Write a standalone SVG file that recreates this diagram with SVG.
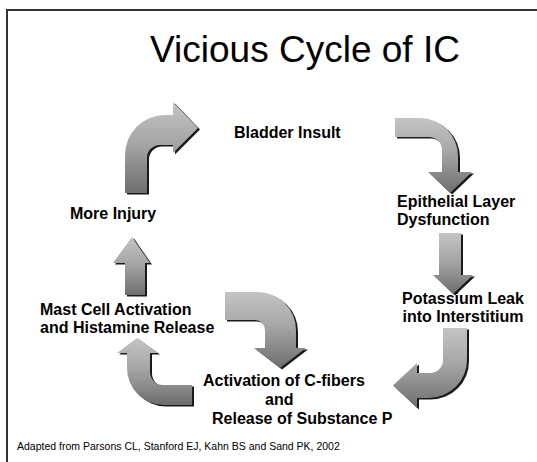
<svg xmlns="http://www.w3.org/2000/svg" width="537" height="462" viewBox="0 0 537 462">
<defs>
<linearGradient id="g" x1="0" y1="0" x2="0" y2="1">
<stop offset="0" stop-color="#c4c4c4"/>
<stop offset="0.45" stop-color="#a6a6a6"/>
<stop offset="1" stop-color="#6e6e6e"/>
</linearGradient>
<style>
.lbl{font-family:"Liberation Sans",Arial,sans-serif;font-weight:bold;font-size:16px;fill:#000}
.arr{fill:url(#g)}
.sh{fill:#1a1a1a}
</style>
</defs>
<rect x="0" y="0" width="537" height="462" fill="#fff"/>
<g id="frame">
<line x1="6" y1="10" x2="537" y2="10" stroke="#333" stroke-width="2"/>
<line x1="7" y1="10" x2="7" y2="462" stroke="#333" stroke-width="2"/>
</g>
<text id="title" x="305" y="62" text-anchor="middle" font-family="Liberation Sans,Arial,sans-serif" font-size="37" fill="#000">Vicious Cycle of IC</text>
<g id="connectors">
<g id="a1">
<path class="sh" transform="translate(2,1.5)" d="M125,193 L125,155 A40,40 0 0 1 165,115 L173,115 L173,102 L198,128 L173,153 L173,145 L160,145 A13,13 0 0 0 147,158 L147,193 Z"/>
<path class="arr" d="M125,193 L125,155 A40,40 0 0 1 165,115 L173,115 L173,102 L198,128 L173,153 L173,145 L160,145 A13,13 0 0 0 147,158 L147,193 Z"/>
</g>
<g id="a2">
<path class="sh" transform="translate(2,1.5)" d="M395,118 L420,118 A38,38 0 0 1 458,156 L458,172 L472,172 L450,193 L428,172 L442,172 L442,150 A13,13 0 0 0 429,137 L395,137 Z"/>
<path class="arr" d="M395,118 L420,118 A38,38 0 0 1 458,156 L458,172 L472,172 L450,193 L428,172 L442,172 L442,150 A13,13 0 0 0 429,137 L395,137 Z"/>
</g>
<g id="a3">
<path class="sh" transform="translate(2,1.5)" d="M439,233 L461,233 L461,275 L473,275 L453,294 L433,275 L439,275 Z"/>
<path class="arr" d="M439,233 L461,233 L461,275 L473,275 L453,294 L433,275 L439,275 Z"/>
</g>
<g id="a4">
<path class="sh" transform="translate(2,1.5)" d="M443,328 L467,328 L467,360 A38,38 0 0 1 429,398 L417,398 L417,408 L393,385.5 L417,363 L417,373 L430,373 A13,13 0 0 0 443,360 Z"/>
<path class="arr" d="M443,328 L467,328 L467,360 A38,38 0 0 1 429,398 L417,398 L417,408 L393,385.5 L417,363 L417,373 L430,373 A13,13 0 0 0 443,360 Z"/>
</g>
<g id="a5">
<path class="sh" transform="translate(2,1.5)" d="M132,237 L150,263 L145,263 L145,295 L125,295 L125,263 L113,263 Z"/>
<path class="arr" d="M132,237 L150,263 L145,263 L145,295 L125,295 L125,263 L113,263 Z"/>
</g>
<g id="a6">
<path class="sh" transform="translate(2,1.5)" d="M137,338 L158,353 L150,353 L150,372 A13,13 0 0 0 163,385 L192,385 L192,405 L164,405 A37,37 0 0 1 127,368 L127,353 L117,353 Z"/>
<path class="arr" d="M137,338 L158,353 L150,353 L150,372 A13,13 0 0 0 163,385 L192,385 L192,405 L164,405 A37,37 0 0 1 127,368 L127,353 L117,353 Z"/>
</g>
<g id="a7">
<path class="sh" transform="translate(2,1.5)" d="M225,292 L258,292 A38,38 0 0 1 296,330 L296,348 L306,348 L280,368 L254,348 L265,348 L265,330 A10,10 0 0 0 255,320 L225,320 Z"/>
<path class="arr" d="M225,292 L258,292 A38,38 0 0 1 296,330 L296,348 L306,348 L280,368 L254,348 L265,348 L265,330 A10,10 0 0 0 255,320 L225,320 Z"/>
</g>
</g>
<g id="n-bladder"><text class="lbl" x="234" y="138">Bladder Insult</text></g>
<g id="n-epithelial"><text class="lbl" x="397" y="207">Epithelial Layer</text><text class="lbl" x="397" y="225">Dysfunction</text></g>
<g id="n-potassium"><text class="lbl" x="463" y="304" text-anchor="middle">Potassium Leak</text><text class="lbl" x="463" y="322" text-anchor="middle">into Interstitium</text></g>
<g id="n-cfibers"><text class="lbl" x="203" y="386">Activation of C-fibers</text><text class="lbl" x="265" y="405">and</text><text class="lbl" x="212" y="424">Release of Substance P</text></g>
<g id="n-mast"><text class="lbl" x="40" y="315">Mast Cell Activation</text><text class="lbl" x="40" y="333">and Histamine Release</text></g>
<g id="n-injury"><text class="lbl" x="70" y="219">More Injury</text></g>
<text id="footer" x="17" y="450" font-family="Liberation Sans,Arial,sans-serif" font-size="10.5" fill="#000">Adapted from Parsons CL, Stanford EJ, Kahn BS and Sand PK, 2002</text>
</svg>
